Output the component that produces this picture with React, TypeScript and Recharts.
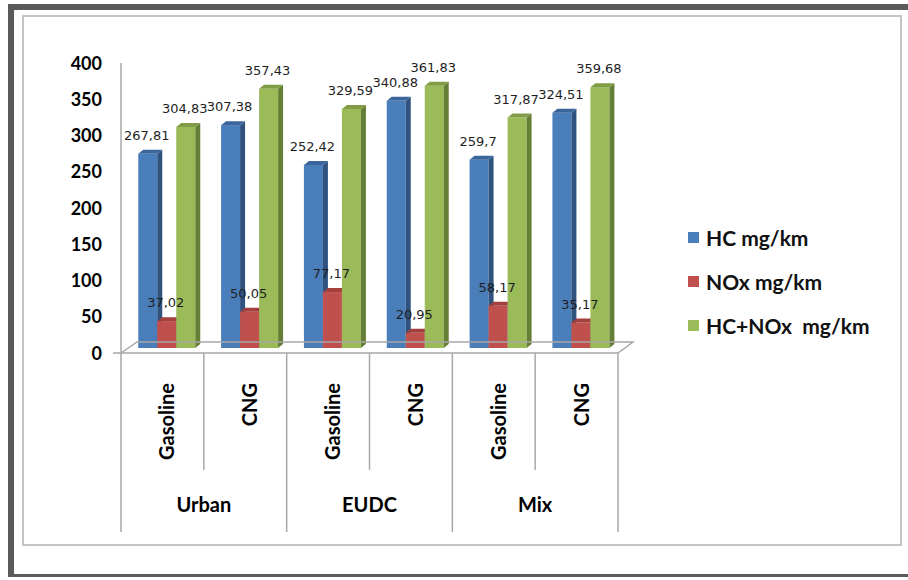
import { BarChart, Bar, XAxis, YAxis, Legend, LabelList } from 'recharts';

// test cycles and fuels, two fuels per cycle
const cycles = ['Urban', 'EUDC', 'Mix'];
const fuels = ['Gasoline', 'CNG', 'Gasoline', 'CNG', 'Gasoline', 'CNG'];

// emissions, mg/km
const hc = [267.81, 307.38, 252.42, 340.88, 259.7, 324.51];
const nox = [37.02, 50.05, 77.17, 20.95, 58.17, 35.17];
const hcNox = [304.83, 357.43, 329.59, 361.83, 317.87, 359.68];

const yTicks = [0, 50, 100, 150, 200, 250, 300, 350, 400];

const data = fuels.map((fuel, i) => ({
  key: `${cycles[Math.floor(i / 2)]} ${fuel}`,
  hc: hc[i],
  nox: nox[i],
  hcNox: hcNox[i],
}));

const series = [
  { key: 'hc', name: 'HC mg/km', front: '#4A7EBB', top: '#3A669C', side: '#2F527F' },
  { key: 'nox', name: 'NOx mg/km', front: '#C0504D', top: '#A33F3C', side: '#833230' },
  { key: 'hcNox', name: 'HC+NOx  mg/km', front: '#9BBB59', top: '#809D45', side: '#667F36' },
];

const W = 908;
const H = 580;
const PLOT = { left: 121, top: 63, width: 497, height: 290 };
const BOTTOM = PLOT.top + PLOT.height;
const BAND = PLOT.width / fuels.length;
const Y_AXIS_W = 60;
const X_AXIS_H = 40;

// pseudo-3D: front faces sit a little right/up of the axis plane
const SHIFT_X = 4;
const SHIFT_Y = -5;
const DEPTH_X = 5;
const DEPTH_Y = 4;

const LABEL_FONT = 'Lato, "Open Sans", sans-serif';
const AXIS_GRAY = '#a8a8a8';

const colorsByFront: Record<string, (typeof series)[number]> = {};
series.forEach((s) => (colorsByFront[s.front] = s));

function Bar3D(props: any) {
  const { x, y, width, height, fill } = props;
  if (height == null || width == null) return null;
  const c = colorsByFront[fill];
  const fx = x + SHIFT_X;
  const fy = y + SHIFT_Y;
  const r = fx + width;
  const b = fy + height;
  return (
    <g>
      <rect x={fx} y={fy} width={width} height={height} fill={c.front} />
      <polygon
        points={`${r},${fy} ${r + DEPTH_X},${fy - DEPTH_Y} ${r + DEPTH_X},${b - DEPTH_Y} ${r},${b}`}
        fill={c.side}
      />
      <polygon
        points={`${fx},${fy} ${fx + DEPTH_X},${fy - DEPTH_Y} ${r + DEPTH_X},${fy - DEPTH_Y} ${r},${fy}`}
        fill={c.top}
      />
    </g>
  );
}

function ValueLabel(props: any) {
  const { x, y, width, value } = props;
  return (
    <text
      x={x + width / 2 + SHIFT_X - 1}
      y={y + SHIFT_Y - 14}
      textAnchor="middle"
      fontFamily='"DejaVu Sans", Verdana, sans-serif'
      fontSize={13}
      fill="#1e1e1e"
    >
      {String(value).replace('.', ',')}
    </text>
  );
}

function FuelTick(props: any) {
  const { x, index } = props;
  const left = x - BAND / 2;
  const groupStart = index % 2 === 0;
  return (
    <g>
      <line x1={left} x2={left} y1={BOTTOM} y2={groupStart ? 532 : 470} stroke={AXIS_GRAY} strokeWidth={1.5} />
      {index === fuels.length - 1 && (
        <line x1={x + BAND / 2} x2={x + BAND / 2} y1={BOTTOM} y2={532} stroke={AXIS_GRAY} strokeWidth={1.5} />
      )}
      <text
        transform={`translate(${x + 12},${383}) rotate(-90)`}
        textAnchor="end"
        fontFamily={LABEL_FONT}
        fontWeight={700}
        fontSize={20}
        fill="#000"
      >
        {fuels[index]}
      </text>
      {groupStart && (
        <text
          x={x + BAND / 2}
          y={512}
          textAnchor="middle"
          fontFamily={LABEL_FONT}
          fontWeight={700}
          fontSize={20}
          fill="#000"
        >
          {cycles[index / 2]}
        </text>
      )}
    </g>
  );
}

function ValueTick(props: any) {
  const { y, payload } = props;
  const isZero = payload.value === 0;
  return (
    <g>
      {isZero && (
        <polyline
          points={`${PLOT.left - 8},${BOTTOM} ${PLOT.left + PLOT.width},${BOTTOM} ${PLOT.left + PLOT.width + 15},${BOTTOM - 11} ${PLOT.left + 16},${BOTTOM - 11} ${PLOT.left},${BOTTOM}`}
          fill="none"
          stroke={AXIS_GRAY}
          strokeWidth={1.5}
        />
      )}
      <text
        x={PLOT.left - 19}
        y={y + 6.5}
        textAnchor="end"
        fontFamily={LABEL_FONT}
        fontWeight={700}
        fontSize={18}
        fill="#000"
      >
        {payload.value}
      </text>
    </g>
  );
}

function LegendBox(props: any) {
  const items = [...(props.payload || [])].sort(
    (a: any, b: any) =>
      series.findIndex((s) => s.name === a.value) - series.findIndex((s) => s.name === b.value),
  );
  return (
    <div>
      {items.map((entry: any) => (
        <div key={entry.value} style={{ display: 'flex', alignItems: 'center', height: 44 }}>
          <span style={{ width: 11, height: 11, background: entry.color, marginRight: 7 }} />
          <span
            style={{
              fontFamily: LABEL_FONT,
              fontWeight: 700,
              fontSize: 21,
              color: '#111',
              whiteSpace: 'pre',
            }}
          >
            {entry.value}
          </span>
        </div>
      ))}
    </div>
  );
}

export default function App() {
  return (
    <div style={{ position: 'absolute', left: 0, top: 0, width: W, height: H, background: '#fff', overflow: 'hidden' }}>
      <div
        style={{
          position: 'absolute',
          left: 8,
          top: 4,
          width: W,
          height: 573,
          borderTop: '6px solid #5a5a5a',
          borderLeft: '6px solid #5a5a5a',
          borderBottom: '3px solid #5a5a5a',
          boxSizing: 'border-box',
        }}
      />
      <div
        style={{
          position: 'absolute',
          left: 22,
          top: 15,
          width: 880,
          height: 531,
          border: '2px solid #c4c4c4',
          boxSizing: 'border-box',
        }}
      />
      <div style={{ position: 'absolute', left: 0, top: 0 }}>
        <BarChart
          width={W}
          height={H}
          data={data}
          margin={{
            top: PLOT.top,
            left: PLOT.left - Y_AXIS_W,
            right: W - PLOT.left - PLOT.width,
            bottom: H - BOTTOM - X_AXIS_H,
          }}
          barCategoryGap="16%"
          barGap={0}
        >
          <XAxis
            dataKey="key"
            height={X_AXIS_H}
            axisLine={false}
            tickLine={false}
            interval={0}
            tick={<FuelTick />}
          />
          <YAxis
            width={Y_AXIS_W}
            domain={[0, 400]}
            ticks={yTicks}
            axisLine={{ stroke: AXIS_GRAY, strokeWidth: 1.5 }}
            tickLine={false}
            tick={<ValueTick />}
          />
          <Legend
            layout="vertical"
            align="center"
            verticalAlign="middle"
            content={<LegendBox />}
            wrapperStyle={{ left: 688, top: 215, width: 210 }}
          />
          {series.map((s) => (
            <Bar
              key={s.key}
              dataKey={s.key}
              name={s.name}
              fill={s.front}
              shape={<Bar3D />}
              isAnimationActive={false}
            >
              <LabelList dataKey={s.key} content={<ValueLabel />} />
            </Bar>
          ))}
        </BarChart>
      </div>
    </div>
  );
}
